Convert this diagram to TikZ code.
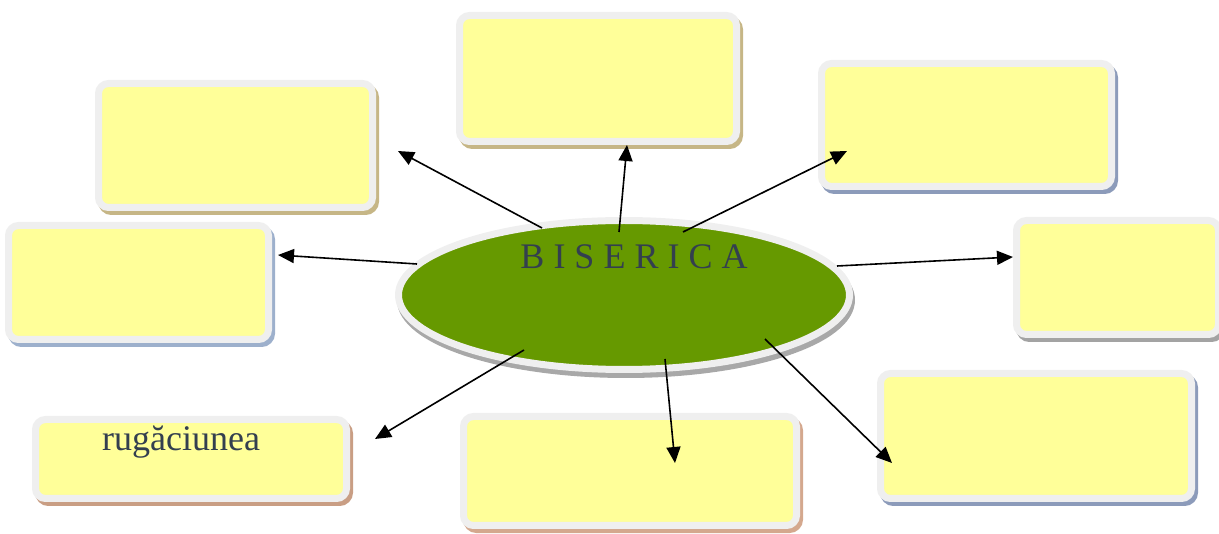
\documentclass[tikz,border=0pt]{standalone}
\usepackage{fontspec}
\setmainfont{Liberation Serif}
\usetikzlibrary{arrows.meta,shapes.geometric}
\definecolor{boxrim}{HTML}{EFEFEF}
\definecolor{boxfill}{HTML}{FFFF99}
\definecolor{ellfill}{HTML}{669900}
\definecolor{txt}{HTML}{333F4F}
\definecolor{shTan}{HTML}{C6B686}
\definecolor{shBlue}{HTML}{8C9BBA}
\definecolor{shLBlue}{HTML}{9DB0CC}
\definecolor{shGray}{HTML}{A3A3A3}
\definecolor{shBrown}{HTML}{C99E84}
\definecolor{shPink}{HTML}{D4A88E}
\definecolor{shEll}{HTML}{A8A8A8}
\tikzset{
  box/.style={draw=boxrim, line width=7pt, fill=boxfill, rounded corners=10pt,
    inner sep=0pt, outer sep=0pt, rectangle,
    preaction={draw=#1, fill=#1, line width=7pt, transform canvas={shift={(3pt,-4pt)}}}},
  centre/.style={ellipse, draw=boxrim, line width=7pt, fill=ellfill,
    inner sep=0pt, outer sep=0pt,
    preaction={draw=shEll, fill=shEll, line width=7pt, transform canvas={shift={(2pt,-5pt)}}}},
  link/.style={-{Triangle[length=16pt,width=14pt]}, line width=1.6pt, black},
  label/.style={font=\fontsize{36}{43}\selectfont, text=txt, inner sep=0pt}
}
\begin{document}
\begin{tikzpicture}[x=1pt,y=-1pt]
\useasboundingbox (0,0) rectangle (1219,534);
% boxes
\node[box=shTan,   minimum width=274pt, minimum height=124pt] (tl) at (235.5,145.5) {};
\node[box=shTan,   minimum width=277pt, minimum height=126pt] (tc) at (598,78.5) {};
\node[box=shBlue,  minimum width=290pt, minimum height=123pt] (tr) at (966.5,125) {};
\node[box=shLBlue, minimum width=260pt, minimum height=114pt] (lf) at (138.5,282.5) {};
\node[box=shGray,  minimum width=202pt, minimum height=114pt] (rt) at (1117.5,277.5) {};
\node[box=shBrown, minimum width=311pt, minimum height=79pt]  (bl) at (191,459) {};
\node[box=shPink,  minimum width=333pt, minimum height=109pt] (bc) at (630,471) {};
\node[box=shBlue,  minimum width=311pt, minimum height=125pt] (br) at (1036,436) {};
% centre ellipse
\node[centre, minimum width=451pt, minimum height=149pt] (ell) at (624,295) {};
\node[label, anchor=base] (title) at (634,269) {B I S E R I C A};
\node[label, anchor=base west] (rug) at (102,451) {rugăciunea};
% connector end points
\coordinate (s1) at (542,228); \coordinate (e1) at (398,151);
\coordinate (s2) at (619,232); \coordinate (e2) at (627,145);
\coordinate (s3) at (683,232); \coordinate (e3) at (847,151);
\coordinate (s4) at (417,264); \coordinate (e4) at (278,255);
\coordinate (s5) at (837,266); \coordinate (e5) at (1013,257);
\coordinate (s6) at (524,350); \coordinate (e6) at (375,439);
\coordinate (s7) at (665,359); \coordinate (e7) at (675,463);
\coordinate (s8) at (765,339); \coordinate (e8) at (892,463);
\draw[link] (s1) -- (e1);
\draw[link] (s2) -- (e2);
\draw[link] (s3) -- (e3);
\draw[link] (s4) -- (e4);
\draw[link] (s5) -- (e5);
\draw[link] (s6) -- (e6);
\draw[link] (s7) -- (e7);
\draw[link] (s8) -- (e8);
\end{tikzpicture}
\end{document}
